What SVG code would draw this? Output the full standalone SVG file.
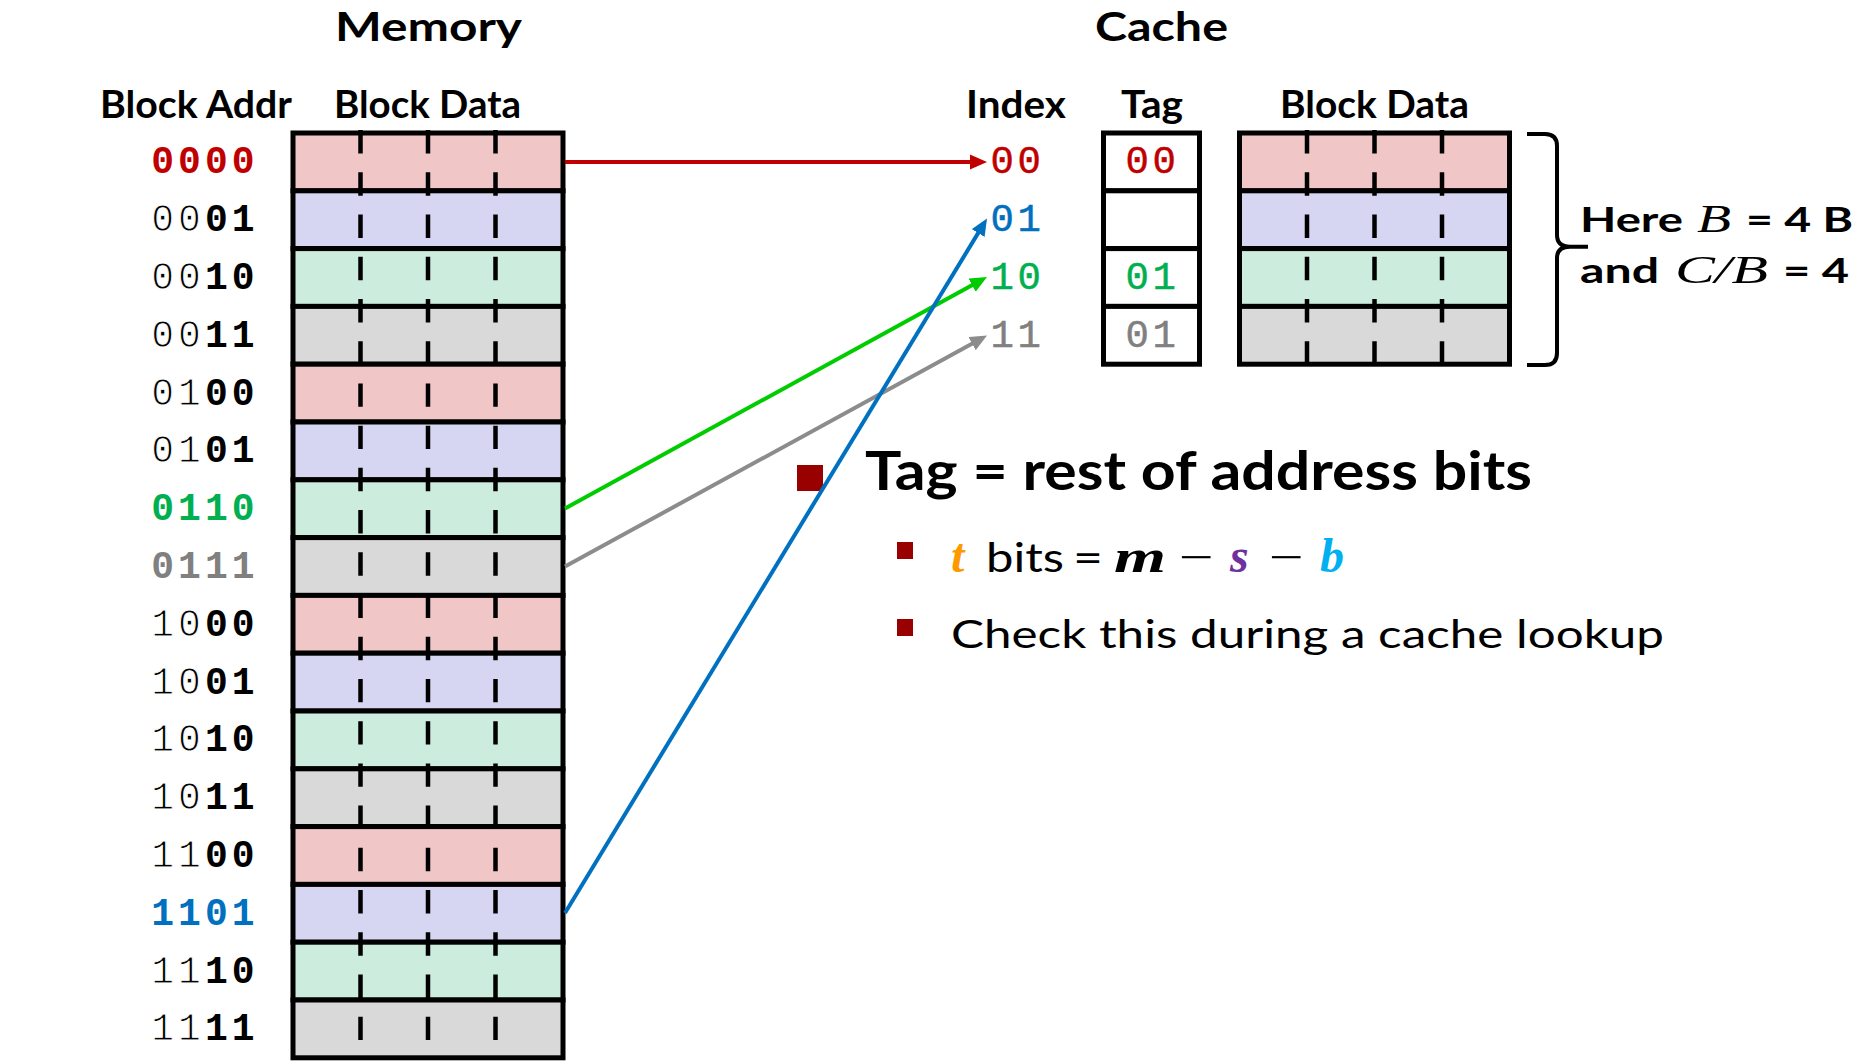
<svg xmlns="http://www.w3.org/2000/svg" width="1860" height="1064" viewBox="0 0 1860 1064">
<style>
.hd{font-family:Lato,"Liberation Sans",sans-serif;font-weight:bold;fill:#000}
.t1{font-size:41px}
.t2{font-size:38.4px}
.addr{font-family:"Liberation Mono",monospace;font-size:38px;letter-spacing:4px;fill:#000}
.idx{font-family:"Liberation Mono",monospace;font-size:39px;letter-spacing:3.6px;stroke-width:0.5px}
.lt{font-weight:normal;stroke:#fff;stroke-width:1px}
.bd{font-weight:bold}
.red{fill:#C00000;stroke:#C00000}.grn{fill:#00B050;stroke:#00B050}.gry{fill:#808080;stroke:#808080}.blu{fill:#0070C0;stroke:#0070C0}
.addr .red,.addr .grn,.addr .gry,.addr .blu{stroke:none}
.pk{fill:#F1C6C6}.lv{fill:#D6D6F3}.mt{fill:#CCEDDE}.gy{fill:#D9D9D9}.wh{fill:#fff}
.row{stroke:#000;stroke-width:5}
.dash{stroke:#000;stroke-width:4.5;stroke-dasharray:23.4 18.82;fill:none}
.conn{fill:none;stroke-width:4}
.sans{font-family:Lato,"Liberation Sans",sans-serif}
.math{font-family:"Liberation Serif",serif;font-style:italic}
.minus{font-family:"Liberation Serif",serif;font-size:44px;fill:#000}
.bul{fill:#990000}
</style>
<defs>
<marker id="ar" markerUnits="userSpaceOnUse" markerWidth="18" markerHeight="16" refX="4" refY="7.5" orient="auto"><path d="M0,0 L17,7.5 L0,15 z" fill="#C00000"/></marker>
<marker id="ab" markerUnits="userSpaceOnUse" markerWidth="18" markerHeight="16" refX="4" refY="7.5" orient="auto"><path d="M0,0 L17,7.5 L0,15 z" fill="#0070C0"/></marker>
<marker id="ag" markerUnits="userSpaceOnUse" markerWidth="18" markerHeight="16" refX="4" refY="7.5" orient="auto"><path d="M0,0 L17,7.5 L0,15 z" fill="#00CC00"/></marker>
<marker id="ay" markerUnits="userSpaceOnUse" markerWidth="18" markerHeight="16" refX="4" refY="7.5" orient="auto"><path d="M0,0 L17,7.5 L0,15 z" fill="#8C8C8C"/></marker>
</defs>
<rect width="1860" height="1064" fill="#fff"/>

<g id="titles" class="hd">
<text class="t1" x="335" y="40.5" textLength="187" lengthAdjust="spacingAndGlyphs">Memory</text>
<text class="t1" x="1095" y="40.5" textLength="133" lengthAdjust="spacingAndGlyphs">Cache</text>
<text class="t2" x="100" y="118" textLength="192" lengthAdjust="spacingAndGlyphs">Block Addr</text>
<text class="t2" x="334" y="118" textLength="187" lengthAdjust="spacingAndGlyphs">Block Data</text>
<text class="t2" x="966" y="118" textLength="100" lengthAdjust="spacingAndGlyphs">Index</text>
<text class="t2" x="1121" y="118" textLength="62" lengthAdjust="spacingAndGlyphs">Tag</text>
<text class="t2" x="1280" y="118" textLength="189" lengthAdjust="spacingAndGlyphs">Block Data</text>
</g>

<g id="memory">
<rect class="row pk" x="293" y="133" width="270" height="57.8"/>
<rect class="row lv" x="293" y="190.8" width="270" height="57.8"/>
<rect class="row mt" x="293" y="248.6" width="270" height="57.8"/>
<rect class="row gy" x="293" y="306.4" width="270" height="57.8"/>
<rect class="row pk" x="293" y="364.2" width="270" height="57.8"/>
<rect class="row lv" x="293" y="422" width="270" height="57.8"/>
<rect class="row mt" x="293" y="479.8" width="270" height="57.8"/>
<rect class="row gy" x="293" y="537.6" width="270" height="57.8"/>
<rect class="row pk" x="293" y="595.4" width="270" height="57.8"/>
<rect class="row lv" x="293" y="653.2" width="270" height="57.8"/>
<rect class="row mt" x="293" y="711" width="270" height="57.8"/>
<rect class="row gy" x="293" y="768.8" width="270" height="57.8"/>
<rect class="row pk" x="293" y="826.6" width="270" height="57.8"/>
<rect class="row lv" x="293" y="884.4" width="270" height="57.8"/>
<rect class="row mt" x="293" y="942.2" width="270" height="57.8"/>
<rect class="row gy" x="293" y="1000" width="270" height="57.8"/>
<line class="dash" x1="360.5" y1="130.1" x2="360.5" y2="1057.8"/>
<line class="dash" x1="428" y1="130.1" x2="428" y2="1057.8"/>
<line class="dash" x1="495.5" y1="130.1" x2="495.5" y2="1057.8"/>
</g>

<g id="addresses" class="addr">
<text x="151.3" y="173.4" class="bd red">0000</text>
<text x="151.3" y="231.2"><tspan class="lt">00</tspan><tspan class="bd">01</tspan></text>
<text x="151.3" y="289"><tspan class="lt">00</tspan><tspan class="bd">10</tspan></text>
<text x="151.3" y="346.8"><tspan class="lt">00</tspan><tspan class="bd">11</tspan></text>
<text x="151.3" y="404.6"><tspan class="lt">01</tspan><tspan class="bd">00</tspan></text>
<text x="151.3" y="462.4"><tspan class="lt">01</tspan><tspan class="bd">01</tspan></text>
<text x="151.3" y="520.2" class="bd grn">0110</text>
<text x="151.3" y="578" class="bd gry">0111</text>
<text x="151.3" y="635.8"><tspan class="lt">10</tspan><tspan class="bd">00</tspan></text>
<text x="151.3" y="693.6"><tspan class="lt">10</tspan><tspan class="bd">01</tspan></text>
<text x="151.3" y="751.4"><tspan class="lt">10</tspan><tspan class="bd">10</tspan></text>
<text x="151.3" y="809.2"><tspan class="lt">10</tspan><tspan class="bd">11</tspan></text>
<text x="151.3" y="867"><tspan class="lt">11</tspan><tspan class="bd">00</tspan></text>
<text x="151.3" y="924.8" class="bd blu">1101</text>
<text x="151.3" y="982.6"><tspan class="lt">11</tspan><tspan class="bd">10</tspan></text>
<text x="151.3" y="1040.4"><tspan class="lt">11</tspan><tspan class="bd">11</tspan></text>
</g>

<g id="cache-index" class="idx">
<text x="990.5" y="173.4" class="red">00</text>
<text x="990.5" y="231.2" class="blu">01</text>
<text x="990.5" y="289" class="grn">10</text>
<text x="990.5" y="346.8" class="gry">11</text>
</g>

<g id="cache-tag">
<rect class="row wh" x="1103.5" y="133" width="96" height="57.8"/>
<rect class="row wh" x="1103.5" y="190.8" width="96" height="57.8"/>
<rect class="row wh" x="1103.5" y="248.6" width="96" height="57.8"/>
<rect class="row wh" x="1103.5" y="306.4" width="96" height="57.8"/>
<g class="idx">
<text x="1125.5" y="173.4" class="red">00</text>
<text x="1125.5" y="289" class="grn">01</text>
<text x="1125.5" y="346.8" class="gry">01</text>
</g>
</g>

<g id="cache-data">
<rect class="row pk" x="1239.5" y="133" width="270" height="57.8"/>
<rect class="row lv" x="1239.5" y="190.8" width="270" height="57.8"/>
<rect class="row mt" x="1239.5" y="248.6" width="270" height="57.8"/>
<rect class="row gy" x="1239.5" y="306.4" width="270" height="57.8"/>
<line class="dash" x1="1307" y1="130.1" x2="1307" y2="364.2"/>
<line class="dash" x1="1374.5" y1="130.1" x2="1374.5" y2="364.2"/>
<line class="dash" x1="1442" y1="130.1" x2="1442" y2="364.2"/>
</g>

<g id="brace-note">
<path d="M1527,134 L1545,134 Q1557,134 1557,146 L1557,235 Q1557,246.7 1570,246.7 L1588,246.7 L1570,246.7 Q1557,246.7 1557,258 L1557,353 Q1557,365 1545,365 L1527,365" fill="none" stroke="#000" stroke-width="4"/>
<text y="231.7" font-size="35"><tspan class="sans" font-weight="bold" x="1580" textLength="103" lengthAdjust="spacingAndGlyphs">Here</tspan><tspan class="math" x="1697" font-size="39" textLength="34" lengthAdjust="spacingAndGlyphs">B</tspan><tspan class="sans" font-weight="bold" x="1746" textLength="107" lengthAdjust="spacingAndGlyphs">= 4 B</tspan></text>
<text y="283.3" font-size="35"><tspan class="sans" font-weight="bold" x="1580" textLength="79" lengthAdjust="spacingAndGlyphs">and</tspan><tspan class="math" x="1675" font-size="39" textLength="93" lengthAdjust="spacingAndGlyphs">C/B</tspan><tspan class="sans" font-weight="bold" x="1783" textLength="66" lengthAdjust="spacingAndGlyphs">= 4</tspan></text>
</g>

<g id="bullets">
<rect class="bul" x="797" y="465" width="26" height="26"/>
<text class="sans" x="865" y="490" font-size="53" font-weight="bold" textLength="667" lengthAdjust="spacingAndGlyphs">Tag = rest of address bits</text>
<rect class="bul" x="897" y="542" width="16" height="17"/>
<text y="571.7" font-size="40"><tspan class="math" font-weight="bold" fill="#FF9900" x="951" font-size="48">t</tspan><tspan class="sans" x="986" textLength="78" lengthAdjust="spacingAndGlyphs">bits</tspan><tspan class="sans" x="1073" textLength="30" lengthAdjust="spacingAndGlyphs">=</tspan><tspan class="math" font-weight="bold" x="1114" font-size="46" textLength="52" lengthAdjust="spacingAndGlyphs">m</tspan><tspan class="math" font-weight="bold" fill="#7030A0" x="1230" font-size="48">s</tspan><tspan class="math" font-weight="bold" fill="#00B0F0" x="1320" font-size="48">b</tspan></text>
<text class="minus" transform="translate(1179,571.7) scale(1.4,1)">−</text>
<text class="minus" transform="translate(1269,571.7) scale(1.4,1)">−</text>
<rect class="bul" x="897" y="619" width="16" height="17"/>
<text class="sans" x="951" y="648" font-size="39" textLength="713" lengthAdjust="spacingAndGlyphs">Check this during a cache lookup</text>
</g>

<g id="connectors" class="conn">
<line x1="565" y1="161.9" x2="974" y2="161.9" stroke="#C00000" marker-end="url(#ar)"/>
<line x1="565" y1="508.5" x2="975.6" y2="283.25" stroke="#00CC00" marker-end="url(#ag)"/>
<line x1="565" y1="566.5" x2="975.6" y2="341.75" stroke="#8C8C8C" marker-end="url(#ay)"/>
<line x1="565" y1="913" x2="980.25" y2="229.6" stroke="#0070C0" marker-end="url(#ab)"/>
</g>
</svg>
